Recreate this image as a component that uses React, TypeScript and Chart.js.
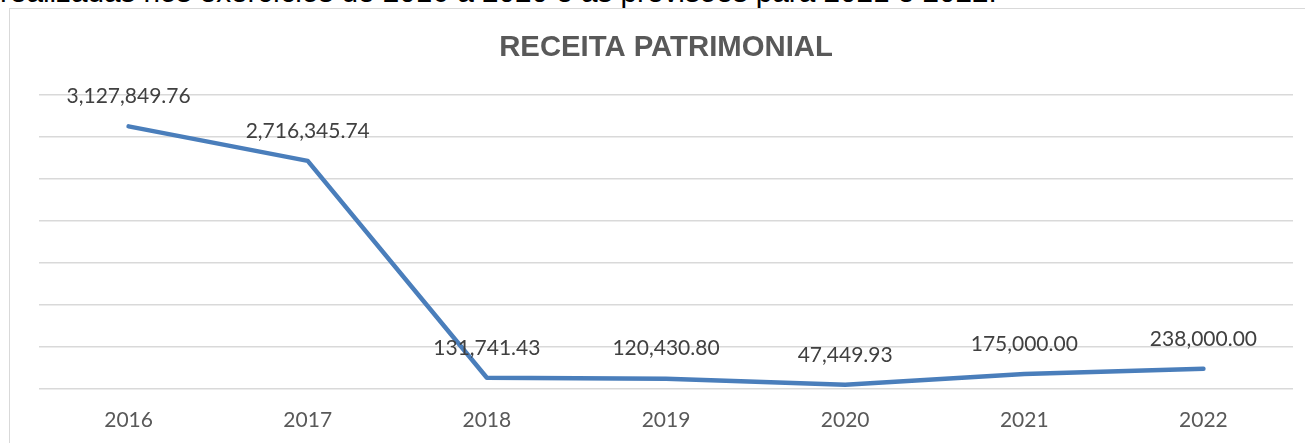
import React, { useEffect, useRef } from "react";
import { Chart, registerables } from "chart.js";

Chart.register(...registerables);

const categories: string[] = ["2016", "2017", "2018", "2019", "2020", "2021", "2022"];
const values: number[] = [3127849.76, 2716345.74, 131741.43, 120430.8, 47449.93, 175000.0, 238000.0];
const chartTitle = "RECEITA PATRIMONIAL";
const introText = "realizadas nos exercícios de 2016 a 2020 e as previsões para 2021 e 2022.";
const yMax = 3500000;
const yStep = 500000;

const fmt = (v: number) =>
  v.toLocaleString("en-US", { minimumFractionDigits: 2, maximumFractionDigits: 2 });

const dataLabelPlugin = {
  id: "dataLabels",
  afterDatasetsDraw(chart: any) {
    const ctx = chart.ctx;
    const meta = chart.getDatasetMeta(0);
    ctx.save();
    ctx.font = "21px Lato";
    ctx.fillStyle = "#404040";
    ctx.textAlign = "center";
    ctx.textBaseline = "middle";
    meta.data.forEach((pt: any, i: number) => {
      const v = chart.data.datasets[0].data[i] as number;
      ctx.fillText(fmt(v), pt.x, pt.y - 30);
    });
    ctx.restore();
  },
};

export default function App() {
  const ref = useRef<HTMLCanvasElement | null>(null);

  useEffect(() => {
    if (!ref.current) return;
    const chart = new Chart(ref.current, {
      type: "line",
      data: {
        labels: categories,
        datasets: [
          {
            data: values,
            borderColor: "#4A7EBB",
            backgroundColor: "#4A7EBB",
            borderWidth: 4.5,
            borderCapStyle: "round",
            borderJoinStyle: "round",
            pointRadius: 0,
            tension: 0,
          },
        ],
      },
      options: {
        animation: false,
        responsive: false,
        devicePixelRatio: 1,
        layout: { padding: { left: 29, right: 12, top: 0, bottom: 0 } },
        plugins: {
          legend: { display: false },
          tooltip: { enabled: false },
          title: {
            display: true,
            text: chartTitle,
            color: "#595959",
            font: { family: "'Liberation Sans', Arial, sans-serif", size: 29.3, weight: "bold", lineHeight: 1.2 },
            padding: { top: 21, bottom: 30 },
          },
        },
        scales: {
          x: {
            offset: true,
            grid: { display: false, drawTicks: false },
            border: { display: false },
            ticks: {
              color: "#595959",
              font: { family: "Lato", size: 21, lineHeight: 1.2 },
              padding: 19,
              maxRotation: 0,
            },
          },
          y: {
            min: 0,
            max: yMax,
            ticks: { display: false, stepSize: yStep },
            grid: { color: "#d9d9d9", lineWidth: 1.5, drawTicks: false },
            border: { display: false },
          },
        },
      },
      plugins: [dataLabelPlugin],
    });
    return () => chart.destroy();
  }, []);

  return (
    <div
      style={{
        position: "absolute",
        left: 0,
        top: 0,
        width: 1305,
        height: 443,
        overflow: "hidden",
        background: "#ffffff",
      }}
    >
      <div
        style={{
          position: "absolute",
          left: 0,
          top: -23,
          fontFamily: "'Liberation Sans', Arial, sans-serif",
          fontSize: 29.7,
          lineHeight: "29.7px",
          color: "#000000",
          whiteSpace: "nowrap",
        }}
      >
        {introText}
      </div>
      <div
        style={{
          position: "absolute",
          left: 9,
          top: 8,
          width: 1400,
          height: 500,
          border: "1px solid #d9d9d9",
          boxSizing: "border-box",
          background: "#ffffff",
        }}
      >
        <canvas
          ref={ref}
          width={1295}
          height={443}
          style={{ position: "absolute", left: 0, top: 0, width: 1295, height: 443 }}
        />
      </div>
    </div>
  );
}
